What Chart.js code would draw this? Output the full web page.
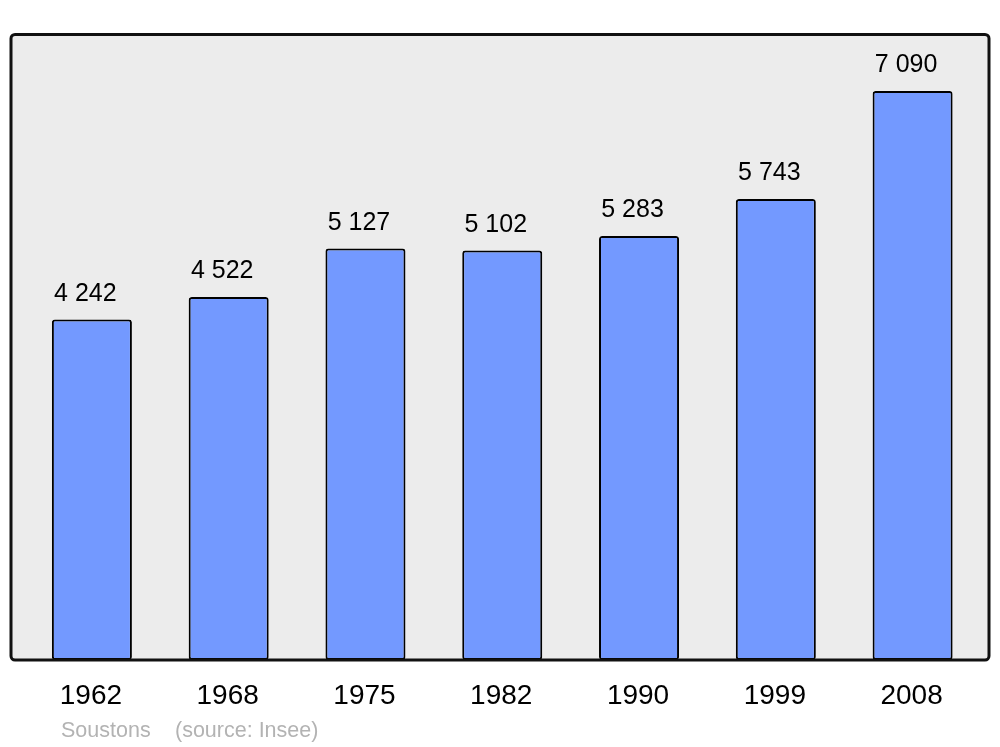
<!DOCTYPE html>
<html>
<head>
<meta charset="utf-8">
<script src="https://cdn.jsdelivr.net/npm/chart.js@4"></script>
<style>
    html, body { margin: 0; padding: 0; background: #ffffff; }
    #wrap { width: 1000px; height: 747px; }
</style>
</head>
<body>
<div id="wrap"><canvas id="popChart" width="1000" height="747"></canvas></div>
<script>
// Data
const years = ['1962', '1968', '1975', '1982', '1990', '1999', '2008'];
const population = [4242, 4522, 5127, 5102, 5283, 5743, 7090];
const valueLabels = ['4 242', '4 522', '5 127', '5 102', '5 283', '5 743', '7 090'];
const townName = 'Soustons';
const sourceText = '(source: Insee)';

const FONT = '"Liberation Sans", Arial, sans-serif';

// Frame box + labels
const framePlugin = {
    id: 'frame',
    beforeDatasetsDraw(chart) {
        const ctx = chart.ctx;
        ctx.save();
        ctx.beginPath();
        ctx.roundRect(11, 34.5, 978, 625.5, 4);
        ctx.fillStyle = '#ececec';
        ctx.fill();
        ctx.restore();
    },
    afterDatasetsDraw(chart) {
        const ctx = chart.ctx;
        const meta = chart.getDatasetMeta(0);
        const xScale = chart.scales.x;

        ctx.save();
        ctx.beginPath();
        ctx.roundRect(11, 34.5, 978, 625.5, 4);
        ctx.lineWidth = 3;
        ctx.strokeStyle = '#111111';
        ctx.stroke();

        // value labels above bars
        ctx.fillStyle = '#000000';
        ctx.textAlign = 'center';
        ctx.textBaseline = 'alphabetic';
        ctx.font = '25px ' + FONT;
        meta.data.forEach((bar, i) => {
            ctx.fillText(valueLabels[i], bar.x - 6.5, bar.y - 19);
        });

        // year labels
        ctx.font = '28px ' + FONT;
        ctx.textBaseline = 'middle';
        years.forEach((y, i) => {
            ctx.fillText(y, xScale.getPixelForValue(i) - 1, 696);
        });

        // footer
        ctx.fillStyle = '#b3b3b3';
        ctx.textAlign = 'left';
        ctx.font = '21.5px ' + FONT;
        ctx.fillText(townName, 61, 731);
        ctx.fillText(sourceText, 175, 731);
        ctx.restore();
    }
};

new Chart(document.getElementById('popChart'), {
    type: 'bar',
    data: {
        labels: years,
        datasets: [{
            data: population,
            backgroundColor: '#7399ff',
            borderColor: '#000000',
            borderWidth: 2,
            borderRadius: 3,
            borderSkipped: false,
            barPercentage: 0.585,
            categoryPercentage: 1
        }]
    },
    options: {
        responsive: false,
        animation: false,
        layout: {
            padding: { left: 23.5, right: 19, top: 34, bottom: 87 }
        },
        plugins: {
            legend: { display: false },
            tooltip: { enabled: false }
        },
        scales: {
            x: { display: false },
            y: { display: false, min: 0, max: 7800 }
        }
    },
    plugins: [framePlugin]
});
</script>
</body>
</html>
